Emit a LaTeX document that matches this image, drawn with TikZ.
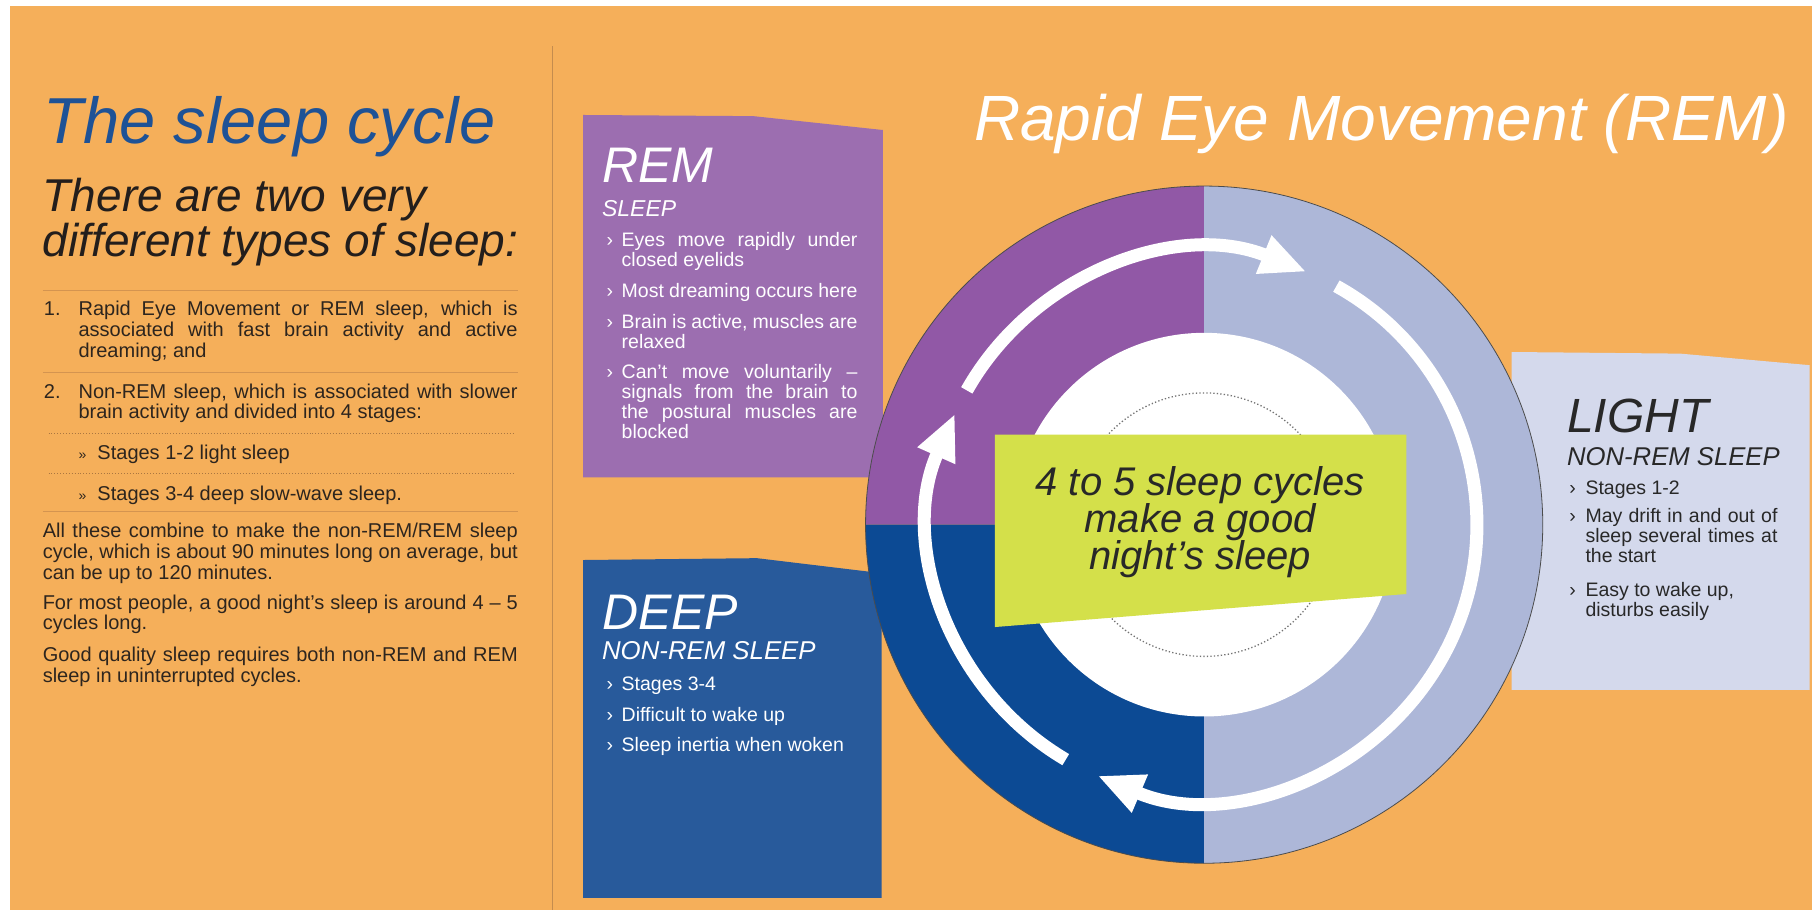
\documentclass[tikz,border=0pt]{standalone}
\usepackage{fontspec}
\setmainfont{Liberation Sans}
\usetikzlibrary{arrows.meta}
\definecolor{bgorange}{RGB}{245,175,90}
\definecolor{titleblue}{RGB}{30,82,150}
\definecolor{bodyc}{RGB}{45,37,30}
\definecolor{headc}{RGB}{35,30,28}
\definecolor{rulec}{RGB}{212,148,80}
\definecolor{divc}{RGB}{196,140,78}
\definecolor{rembox}{RGB}{156,110,176}
\definecolor{remring}{RGB}{145,88,166}
\definecolor{deepbox}{RGB}{40,90,155}
\definecolor{deepring}{RGB}{12,74,148}
\definecolor{lightring}{RGB}{173,183,216}
\definecolor{lightbox}{RGB}{212,217,236}
\definecolor{limec}{RGB}{212,224,74}
\definecolor{darktext}{RGB}{40,40,40}
\begin{document}
\begin{tikzpicture}[x=1.1556pt,y=-1.1556pt,
  txt/.style={anchor=base west,inner sep=0pt,outer sep=0pt},
  body/.style={txt,text=bodyc,font=\fontsize{20}{20.8}\selectfont\hyphenpenalty10000\relax},
  bodypar/.style={body,align=justify,text width=#1},
  hrule/.style={rulec,line width=0.9pt},
  drule/.style={rulec!80!black,line width=0.9pt,dotted},
  bighead/.style={txt,font=\fontsize{50}{54}\selectfont\itshape},
  subhead/.style={txt,font=\fontsize{#1}{#1}\selectfont\itshape},
  bul/.style={txt,font=\fontsize{19.5}{19.9}\selectfont\hyphenpenalty10000\relax,align=justify,text width=#1},
  bmark/.style={txt,font=\fontsize{19.5}{19.9}\selectfont},
  arrowarc/.style={white,line width=13pt,-{Triangle[length=46pt,width=38pt]}},
  limetxt/.style={anchor=base,inner sep=0pt,text=darktext,font=\fontsize{40}{40}\selectfont\itshape}
]
\useasboundingbox (0,0) rectangle (1568,787.5);
% background
\fill[bgorange] (0,0) rectangle (1568,787.5);
\fill[white] (0,0) rectangle (1568,5.5);
\fill[white] (0,0) rectangle (8.7,787.5);
% divider
\coordinate (divtop) at (478,40);
\coordinate (divbot) at (478,787.5);
\draw[divc,line width=1.2pt] (divtop) -- (divbot);

% ---------- left column ----------
\node[txt,text=titleblue,font=\fontsize{65}{70}\selectfont\itshape] (title) at (38,124) {The sleep cycle};
\node[txt,text=headc,font=\fontsize{46}{46}\selectfont\itshape] (sub1) at (37,183) {There are two very};
\node[txt,text=headc,font=\fontsize{46}{46}\selectfont\itshape] (sub2) at (37,222) {different types of sleep:};

\draw[hrule] (37,251) -- (448,251);
\node[body] (n1) at (38,273) {1.};
\node[bodypar=439pt] (item1) at (68,273) {Rapid Eye Movement or REM sleep, which is\linebreak associated with fast brain activity and active\linebreak dreaming; and};
\draw[hrule] (37,322) -- (448,322);
\node[body] (n2) at (38,344.5) {2.};
\node[bodypar=439pt] (item2) at (68,344.5) {Non-REM sleep, which is associated with slower\linebreak brain activity and divided into 4 stages:};
\draw[drule] (42,375) -- (446,375);
\node[body] (s1) at (68,397.5) {{\fontsize{14}{14}\selectfont »}\ \ Stages 1-2 light sleep};
\draw[drule] (42,410) -- (446,410);
\node[body] (s2) at (68,433) {{\fontsize{14}{14}\selectfont »}\ \ Stages 3-4 deep slow-wave sleep.};
\draw[hrule] (37,443) -- (448,443);
\node[bodypar=475pt] (p1) at (37,465.5) {All these combine to make the non-REM/REM sleep\linebreak cycle, which is about 90 minutes long on average, but\linebreak can be up to 120 minutes.};
\node[bodypar=475pt] (p2) at (37,527) {For most people, a good night’s sleep is around 4 – 5\linebreak cycles long.};
\node[bodypar=475pt] (p3) at (37,572.5) {Good quality sleep requires both non-REM and REM\linebreak sleep in uninterrupted cycles.};

% ---------- header ----------
\node[txt,text=white,font=\fontsize{64}{70}\selectfont\itshape] (remtitle) at (843,122) {Rapid Eye Movement (REM)};

% ---------- REM box ----------
\fill[rembox] (504.6,99.5) -- (652,100.5) -- (764,112.5) -- (764,413) -- (504.6,413) -- cycle;
\node[bighead,text=white] (remh) at (521,158) {REM};
\node[subhead=23,text=white] (remsub) at (521,187) {SLEEP};
\begin{scope}[every node/.append style={text=white}]
\node[bmark] (rb1) at (525,213.5) {›};
\node[bul=235.7pt] (r1) at (538,213.5) {Eyes move rapidly under\linebreak closed eyelids};
\node[bmark] (rb2) at (525,257.5) {›};
\node[bul=235.7pt] (r2) at (538,257.5) {Most dreaming occurs here};
\node[bmark] (rb3) at (525,284) {›};
\node[bul=235.7pt] (r3) at (538,284) {Brain is active, muscles are\linebreak relaxed};
\node[bmark] (rb4) at (525,327.5) {›};
\node[bul=235.7pt] (r4) at (538,327.5) {Can’t move voluntarily –\linebreak signals from the brain to\linebreak the postural muscles are\linebreak blocked};
\end{scope}

% ---------- DEEP box ----------
\fill[deepbox] (504.6,484.6) -- (655,483) -- (763,496) -- (763,777) -- (504.6,777) -- cycle;
\node[bighead,text=white] (deeph) at (521,545) {DEEP};
\node[subhead=25.8,text=white] (deepsub) at (521,571) {NON-REM SLEEP};
\begin{scope}[every node/.append style={text=white}]
\node[bmark] (db1) at (525,597.5) {›};
\node[bul=235.7pt] (d1) at (538,597.5) {Stages 3-4};
\node[bmark] (db2) at (525,624) {›};
\node[bul=235.7pt] (d2) at (538,624) {Difficult to wake up};
\node[bmark] (db3) at (525,650.5) {›};
\node[bul=235.7pt] (d3) at (538,650.5) {Sleep inertia when woken};
\end{scope}

% ---------- LIGHT box ----------
\fill[lightbox] (1308,304.6) -- (1454,306) -- (1566,316) -- (1566,597) -- (1308,597) -- cycle;
\node[txt,text=darktext,font=\fontsize{48}{50}\selectfont\itshape] (lighth) at (1356,374) {LIGHT};
\node[subhead=25.7,text=darktext] (lightsub) at (1356,403) {NON-REM SLEEP};
\begin{scope}[every node/.append style={text=darktext}]
\node[bmark] (lb1) at (1358,428) {›};
\node[bul=192pt] (l1) at (1372,428) {Stages 1-2};
\node[bmark] (lb2) at (1358,452.5) {›};
\node[bul=192pt] (l2) at (1372,452.5) {May drift in and out of\linebreak sleep several times at\linebreak the start};
\node[bmark] (lb3) at (1358,516) {›};
\node[bul=192pt] (l3) at (1372,516) {Easy to wake up,\\ disturbs easily};
\end{scope}

% ---------- circle ----------
\coordinate (c) at (1042,454);
\fill[remring] (c) -- ++(-293,0) arc[start angle=180,end angle=270,radius=293] -- cycle;
\fill[deepring] (c) -- ++(-293,0) arc[start angle=180,end angle=90,radius=293] -- cycle;
\fill[lightring] (c) -- ++(0,-293) arc[start angle=-90,end angle=90,radius=293] -- cycle;
\draw[black!70,line width=0.8pt] (c) circle[radius=293];
\fill[white] (c) circle[radius=166];
\draw[gray!90!black,line width=1.3pt,dash pattern=on 1.3pt off 2.2pt] (c) circle[radius=114];

% arrows
\draw[arrowarc] ([shift={(-150.5:236)}]c) arc[start angle=-150.5,end angle=-68,radius=236];
\draw[arrowarc] ([shift={(-61:236)}]c) arc[start angle=-61,end angle=113,radius=236];
\draw[arrowarc] ([shift={(120.5:236)}]c) arc[start angle=120.5,end angle=204,radius=236];

% lime panel
\fill[limec] (861,376) -- (1217,376) -- (1217,514) -- (861,542.6) -- cycle;
\node[limetxt] (lime1) at (1038.5,428.4) {4 to 5 sleep cycles};
\node[limetxt] (lime2) at (1038.5,460.5) {make a good};
\node[limetxt] (lime3) at (1038.5,492.7) {night’s sleep};
\end{tikzpicture}
\end{document}
